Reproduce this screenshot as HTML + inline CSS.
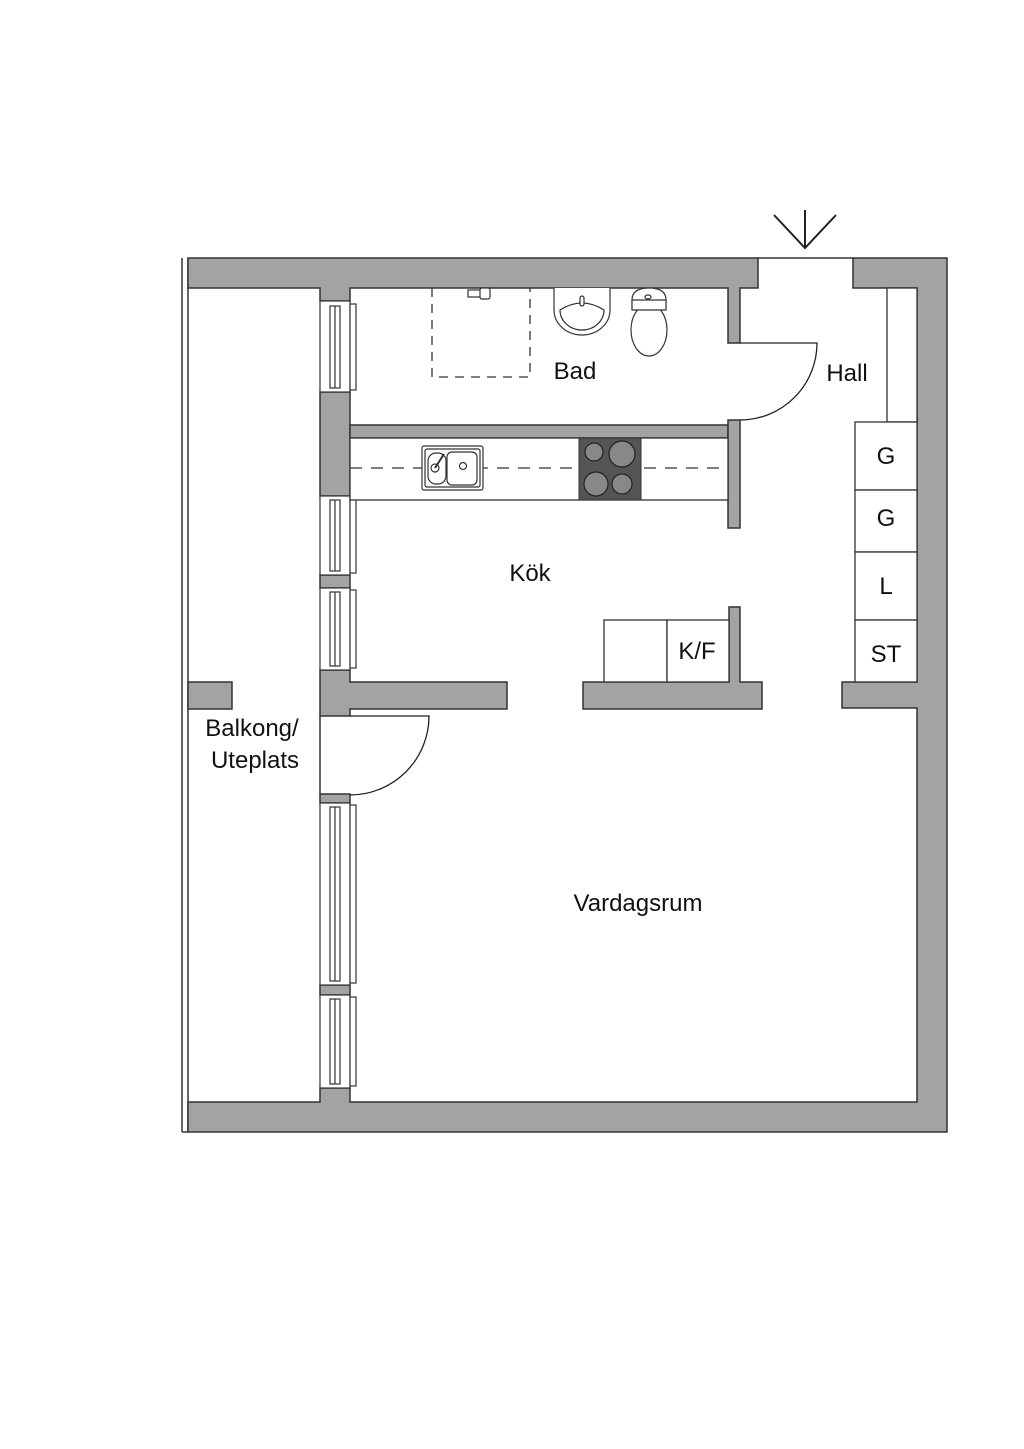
<!DOCTYPE html>
<html><head><meta charset="utf-8"><style>
html,body{margin:0;padding:0;background:#fff;}
svg{display:block}
text{font-family:"Liberation Sans",sans-serif;font-size:24px;fill:#111;text-anchor:middle;}
</style></head><body>
<svg width="1024" height="1449" viewBox="0 0 1024 1449" xmlns="http://www.w3.org/2000/svg">
<!-- balcony outer lines -->
<g stroke="#333" stroke-width="1.5" fill="none">
<line x1="182" y1="258" x2="182" y2="1132"/>
<line x1="188" y1="258" x2="188" y2="1132"/>
<line x1="182" y1="1132" x2="188" y2="1132"/>
</g>
<g fill="#a3a3a3" stroke="#333" stroke-width="1.5">
<!-- top wall -->
<path d="M188 258 H758 V288 H740 V343 H728 V288 H350 V301 H320 V288 H188 Z"/>
<path d="M853 258 H947 V1132 H188 V1102 H320 V1088 H350 V1102 H917 V708 H842 V682 H917 V288 H853 Z"/>
<!-- left inner wall segments -->
<rect x="320" y="392" width="30" height="104"/>
<rect x="350" y="425" width="378" height="13"/>
<rect x="728" y="420" width="12" height="108"/>
<rect x="320" y="575" width="30" height="13"/>
<path d="M320 670 H350 V682 H507 V709 H350 V716 H320 Z"/>
<rect x="320" y="794" width="30" height="9"/>
<rect x="320" y="985" width="30" height="10"/>
<rect x="188" y="682" width="44" height="27"/>
<path d="M583 682 H729 V607 H740 V682 H762 V709 H583 Z"/>
</g>
<line x1="320" y1="716" x2="320" y2="794" stroke="#333" stroke-width="1.5"/>
<!-- entrance -->
<line x1="758" y1="258" x2="853" y2="258" stroke="#333" stroke-width="1.5"/>
<g stroke="#222" stroke-width="2" fill="none">
<line x1="805" y1="210" x2="805" y2="248"/>
<polyline points="774,215 805,248 836,215"/>
</g>
<!-- windows -->
<g fill="#fff" stroke="#333" stroke-width="1.2">
<rect x="320" y="301" width="30" height="91"/><rect x="350" y="304" width="6" height="86"/><rect x="330" y="306" width="10" height="82"/><line x1="335" y1="306" x2="335" y2="388"/>
<rect x="320" y="496" width="30" height="79"/><rect x="350" y="498" width="6" height="75"/><rect x="330" y="500" width="10" height="71"/><line x1="335" y1="500" x2="335" y2="571"/>
<rect x="320" y="588" width="30" height="82"/><rect x="350" y="590" width="6" height="78"/><rect x="330" y="592" width="10" height="74"/><line x1="335" y1="592" x2="335" y2="666"/>
<rect x="320" y="803" width="30" height="182"/><rect x="350" y="805" width="6" height="178"/><rect x="330" y="807" width="10" height="174"/><line x1="335" y1="807" x2="335" y2="981"/>
<rect x="320" y="995" width="30" height="93"/><rect x="350" y="997" width="6" height="89"/><rect x="330" y="999" width="10" height="85"/><line x1="335" y1="999" x2="335" y2="1084"/>
</g>
<!-- doors -->
<g stroke="#222" stroke-width="1.3" fill="none">
<path d="M740 343 H817 A77 77 0 0 1 740 420"/>
<path d="M350 716 H429 A79 79 0 0 1 350 795"/>
</g>
<!-- shower -->
<path d="M432 288 V377 H530 V288" fill="none" stroke="#333" stroke-width="1.3" stroke-dasharray="9,7"/>
<g stroke="#333" stroke-width="1.2" fill="#fff">
<rect x="468" y="290" width="14" height="7"/><rect x="480" y="288" width="10" height="11" rx="2"/>
<!-- basin -->
<path d="M554 288 V310 A28 25 0 0 0 610 310 V288"/>
<path d="M560 310 Q582 296 604 310 A22 20 0 0 1 560 310 Z"/>
<rect x="580" y="296" width="4" height="10" rx="2"/>
<!-- toilet -->
<path d="M632 300 Q632 288 649 288 Q666 288 666 300 V308 H632 Z"/>
<ellipse cx="649" cy="330" rx="18" ry="26"/>
<path d="M632 300 H666 V310 H632 Z"/>
<ellipse cx="648" cy="297" rx="3" ry="2"/>
</g>
<!-- counter -->
<rect x="350" y="438" width="378" height="62" fill="#fff" stroke="#333" stroke-width="1.3"/>
<line x1="350" y1="468" x2="728" y2="468" stroke="#333" stroke-width="1.2" stroke-dasharray="12,9"/>
<g stroke="#333" stroke-width="1.2" fill="#fff">
<rect x="422" y="446" width="61" height="44" rx="2"/>
<rect x="425" y="449" width="55" height="38" rx="2"/>
<rect x="428" y="453" width="18" height="31" rx="8"/>
<rect x="447" y="452" width="30" height="33" rx="5"/>
<circle cx="435" cy="468" r="4"/><circle cx="463" cy="466" r="3.5"/>
<line x1="435" y1="468" x2="444" y2="454" stroke-width="2"/>
</g>
<rect x="579" y="438" width="62" height="62" fill="#555" stroke="#333"/>
<g stroke="#222" stroke-width="1.2" fill="#888">
<circle cx="594" cy="452" r="9"/><circle cx="622" cy="454" r="13"/>
<circle cx="596" cy="484" r="12"/><circle cx="622" cy="484" r="10"/>
</g>
<!-- K/F -->
<g fill="#fff" stroke="#333" stroke-width="1.3">
<rect x="604" y="620" width="63" height="62"/><rect x="667" y="620" width="62" height="62"/>
<!-- wardrobe & cabinets -->
<rect x="887" y="288" width="30" height="134"/>
<rect x="855" y="422" width="62" height="68"/>
<rect x="855" y="490" width="62" height="62"/>
<rect x="855" y="552" width="62" height="68"/>
<rect x="855" y="620" width="62" height="62"/>
</g>
<!-- labels -->
<text x="575" y="379">Bad</text>
<text x="847" y="381">Hall</text>
<text x="530" y="581">Kök</text>
<text x="697" y="659">K/F</text>
<text x="886" y="464">G</text>
<text x="886" y="526">G</text>
<text x="886" y="594">L</text>
<text x="886" y="662">ST</text>
<text x="252" y="736">Balkong/</text>
<text x="255" y="768">Uteplats</text>
<text x="638" y="911">Vardagsrum</text>
</svg>
</body></html>
